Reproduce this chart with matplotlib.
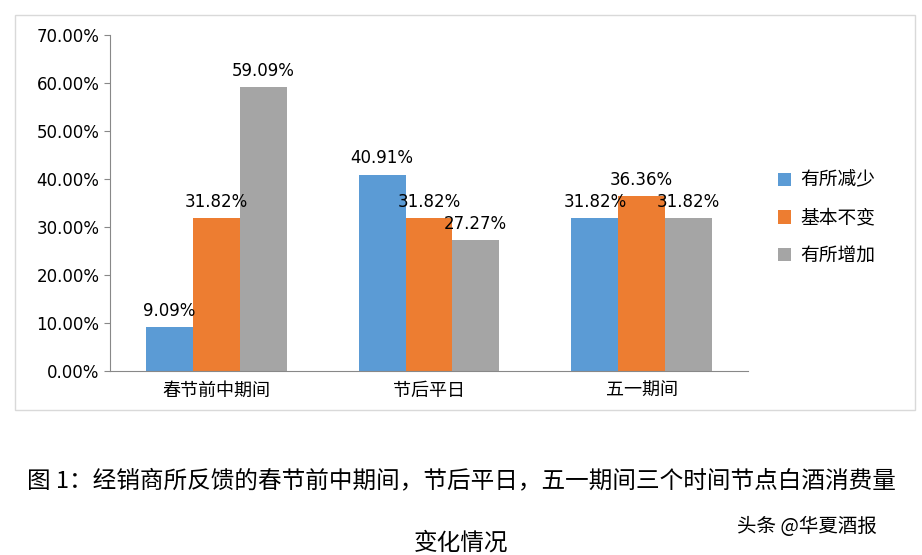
import matplotlib.pyplot as plt
from matplotlib.patches import Rectangle
import numpy as np

plt.rcParams['font.family'] = ['Noto Sans CJK SC', 'DejaVu Sans']

categories = ['春节前中期间', '节后平日', '五一期间']
series = ['有所减少', '基本不变', '有所增加']
values = [
    [9.09, 40.91, 31.82],
    [31.82, 31.82, 36.36],
    [59.09, 27.27, 31.82],
]
colors = ['#5b9bd5', '#ed7d31', '#a5a5a5']

fig = plt.figure(figsize=(9.22, 5.55), dpi=100)
fig.patches.append(Rectangle((15/922, 1-410/555), 900/922, 395/555,
                             transform=fig.transFigure, fill=False,
                             edgecolor='#d9d9d9', lw=1))
ax = fig.add_axes([110/922, 1-371/555, 638/922, 336/555])

x = np.arange(len(categories))
w = 0.22
for i, (name, vals) in enumerate(zip(series, values)):
    bars = ax.bar(x + (i - 1) * w, vals, w, color=colors[i], label=name)
    for b, v in zip(bars, vals):
        ax.text(b.get_x() + b.get_width() / 2, v + 1.5, f'{v:.2f}%',
                ha='center', va='bottom', fontsize=12, family='DejaVu Sans')

ax.set_xlim(-0.5, 2.5)
ax.set_ylim(0, 70)
ax.set_yticks(range(0, 71, 10))
ax.set_yticklabels([f'{t:.2f}%' for t in range(0, 71, 10)], fontsize=12,
                   family='DejaVu Sans')
ax.set_xticks(x)
ax.set_xticklabels(categories, fontsize=13)
ax.tick_params(axis='x', length=0, pad=8)
ax.tick_params(axis='y', length=4, color='#888888')
for s in ['top', 'right']:
    ax.spines[s].set_visible(False)
for s in ['left', 'bottom']:
    ax.spines[s].set_color('#888888')

ax.legend(loc='center left', bbox_to_anchor=(1.02, 0.455), frameon=False,
          fontsize=13.5, handlelength=0.7, handleheight=0.7, labelspacing=0.9,
          handletextpad=0.5)

fig.text(0.5, 1-481/555, '图 1：经销商所反馈的春节前中期间，节后平日，五一期间三个时间节点白酒消费量',
         ha='center', va='center', fontsize=17)
fig.text(0.5, 1-543/555, '变化情况', ha='center', va='center', fontsize=17)
fig.text(0.875, 1-527/555, '头条 @华夏酒报', ha='center', va='center', fontsize=14)

fig.savefig('out.png', dpi=100)
